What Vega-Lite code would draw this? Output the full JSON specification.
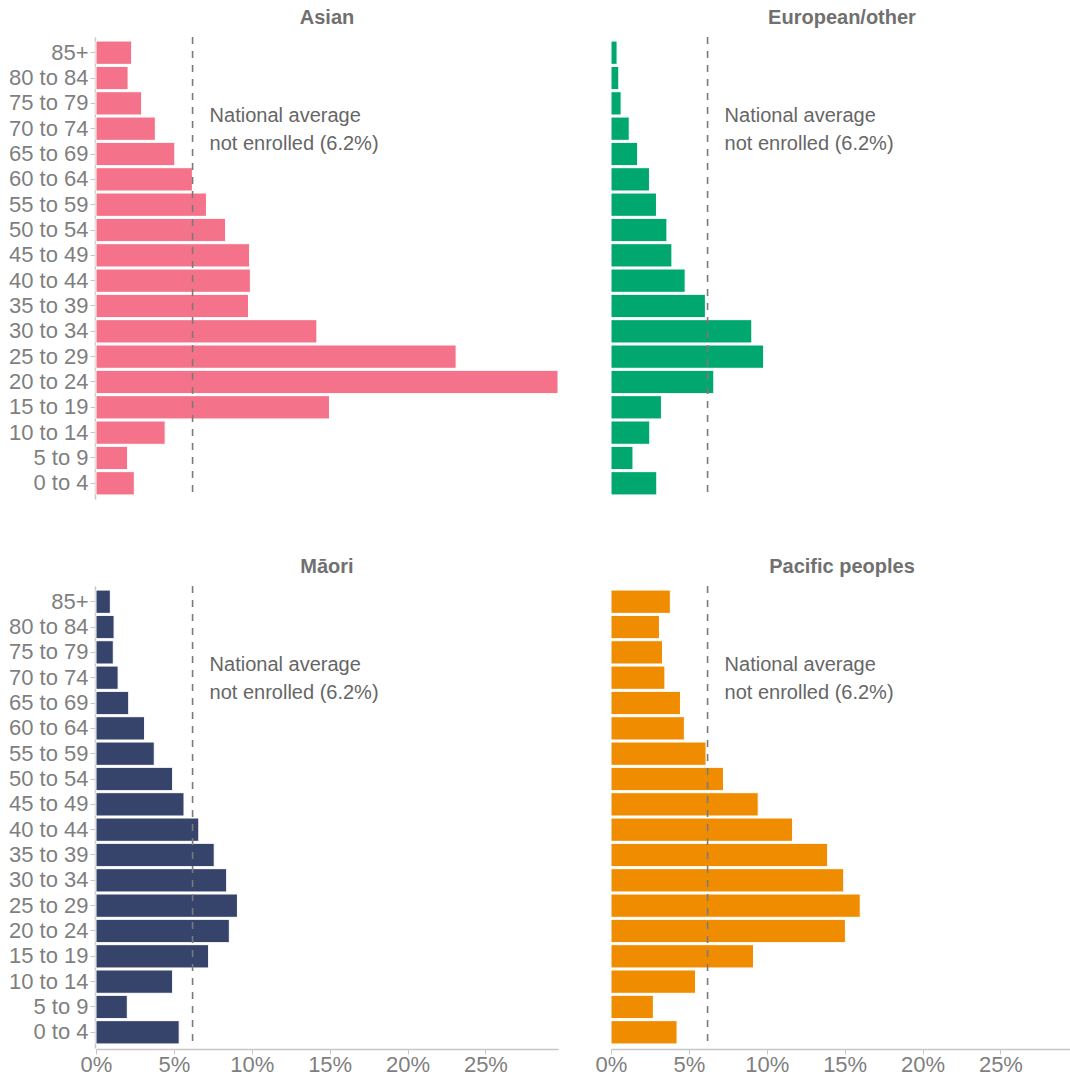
{
  "$schema": "https://vega.github.io/schema/vega-lite/v6.json",
  "padding": {"left": 8, "top": 8, "right": 0, "bottom": 0},
  "background": "white",
  "config": {
    "view": {"stroke": null},
    "font": "Liberation Sans",
    "axis": {"labelFont": "Liberation Sans"}
  },
  "data": {"values": [
    {"group": "Asian", "age": "85+", "pct": 2.29, "national": 6.2},
    {"group": "Asian", "age": "80 to 84", "pct": 2.06, "national": 6.2},
    {"group": "Asian", "age": "75 to 79", "pct": 2.93, "national": 6.2},
    {"group": "Asian", "age": "70 to 74", "pct": 3.81, "national": 6.2},
    {"group": "Asian", "age": "65 to 69", "pct": 5.06, "national": 6.2},
    {"group": "Asian", "age": "60 to 64", "pct": 6.19, "national": 6.2},
    {"group": "Asian", "age": "55 to 59", "pct": 7.09, "national": 6.2},
    {"group": "Asian", "age": "50 to 54", "pct": 8.32, "national": 6.2},
    {"group": "Asian", "age": "45 to 49", "pct": 9.86, "national": 6.2},
    {"group": "Asian", "age": "40 to 44", "pct": 9.91, "national": 6.2},
    {"group": "Asian", "age": "35 to 39", "pct": 9.79, "national": 6.2},
    {"group": "Asian", "age": "30 to 34", "pct": 14.18, "national": 6.2},
    {"group": "Asian", "age": "25 to 29", "pct": 23.12, "national": 6.2},
    {"group": "Asian", "age": "20 to 24", "pct": 29.66, "national": 6.2},
    {"group": "Asian", "age": "15 to 19", "pct": 14.99, "national": 6.2},
    {"group": "Asian", "age": "10 to 14", "pct": 4.44, "national": 6.2},
    {"group": "Asian", "age": "5 to 9", "pct": 2.03, "national": 6.2},
    {"group": "Asian", "age": "0 to 4", "pct": 2.46, "national": 6.2},
    {"group": "European/other", "age": "85+", "pct": 0.39, "national": 6.2},
    {"group": "European/other", "age": "80 to 84", "pct": 0.5, "national": 6.2},
    {"group": "European/other", "age": "75 to 79", "pct": 0.65, "national": 6.2},
    {"group": "European/other", "age": "70 to 74", "pct": 1.17, "national": 6.2},
    {"group": "European/other", "age": "65 to 69", "pct": 1.71, "national": 6.2},
    {"group": "European/other", "age": "60 to 64", "pct": 2.47, "national": 6.2},
    {"group": "European/other", "age": "55 to 59", "pct": 2.92, "national": 6.2},
    {"group": "European/other", "age": "50 to 54", "pct": 3.59, "national": 6.2},
    {"group": "European/other", "age": "45 to 49", "pct": 3.91, "national": 6.2},
    {"group": "European/other", "age": "40 to 44", "pct": 4.76, "national": 6.2},
    {"group": "European/other", "age": "35 to 39", "pct": 6.06, "national": 6.2},
    {"group": "European/other", "age": "30 to 34", "pct": 9.04, "national": 6.2},
    {"group": "European/other", "age": "25 to 29", "pct": 9.8, "national": 6.2},
    {"group": "European/other", "age": "20 to 24", "pct": 6.6, "national": 6.2},
    {"group": "European/other", "age": "15 to 19", "pct": 3.24, "national": 6.2},
    {"group": "European/other", "age": "10 to 14", "pct": 2.49, "national": 6.2},
    {"group": "European/other", "age": "5 to 9", "pct": 1.41, "national": 6.2},
    {"group": "European/other", "age": "0 to 4", "pct": 2.94, "national": 6.2},
    {"group": "Māori", "age": "85+", "pct": 0.92, "national": 6.2},
    {"group": "Māori", "age": "80 to 84", "pct": 1.16, "national": 6.2},
    {"group": "Māori", "age": "75 to 79", "pct": 1.11, "national": 6.2},
    {"group": "Māori", "age": "70 to 74", "pct": 1.42, "national": 6.2},
    {"group": "Māori", "age": "65 to 69", "pct": 2.1, "national": 6.2},
    {"group": "Māori", "age": "60 to 64", "pct": 3.12, "national": 6.2},
    {"group": "Māori", "age": "55 to 59", "pct": 3.74, "national": 6.2},
    {"group": "Māori", "age": "50 to 54", "pct": 4.92, "national": 6.2},
    {"group": "Māori", "age": "45 to 49", "pct": 5.65, "national": 6.2},
    {"group": "Māori", "age": "40 to 44", "pct": 6.6, "national": 6.2},
    {"group": "Māori", "age": "35 to 39", "pct": 7.59, "national": 6.2},
    {"group": "Māori", "age": "30 to 34", "pct": 8.39, "national": 6.2},
    {"group": "Māori", "age": "25 to 29", "pct": 9.08, "national": 6.2},
    {"group": "Māori", "age": "20 to 24", "pct": 8.56, "national": 6.2},
    {"group": "Māori", "age": "15 to 19", "pct": 7.23, "national": 6.2},
    {"group": "Māori", "age": "10 to 14", "pct": 4.92, "national": 6.2},
    {"group": "Māori", "age": "5 to 9", "pct": 2.01, "national": 6.2},
    {"group": "Māori", "age": "0 to 4", "pct": 5.34, "national": 6.2},
    {"group": "Pacific peoples", "age": "85+", "pct": 3.81, "national": 6.2},
    {"group": "Pacific peoples", "age": "80 to 84", "pct": 3.11, "national": 6.2},
    {"group": "Pacific peoples", "age": "75 to 79", "pct": 3.31, "national": 6.2},
    {"group": "Pacific peoples", "age": "70 to 74", "pct": 3.46, "national": 6.2},
    {"group": "Pacific peoples", "age": "65 to 69", "pct": 4.46, "national": 6.2},
    {"group": "Pacific peoples", "age": "60 to 64", "pct": 4.71, "national": 6.2},
    {"group": "Pacific peoples", "age": "55 to 59", "pct": 6.1, "national": 6.2},
    {"group": "Pacific peoples", "age": "50 to 54", "pct": 7.22, "national": 6.2},
    {"group": "Pacific peoples", "age": "45 to 49", "pct": 9.45, "national": 6.2},
    {"group": "Pacific peoples", "age": "40 to 44", "pct": 11.66, "national": 6.2},
    {"group": "Pacific peoples", "age": "35 to 39", "pct": 13.91, "national": 6.2},
    {"group": "Pacific peoples", "age": "30 to 34", "pct": 14.94, "national": 6.2},
    {"group": "Pacific peoples", "age": "25 to 29", "pct": 16.0, "national": 6.2},
    {"group": "Pacific peoples", "age": "20 to 24", "pct": 15.05, "national": 6.2},
    {"group": "Pacific peoples", "age": "15 to 19", "pct": 9.15, "national": 6.2},
    {"group": "Pacific peoples", "age": "10 to 14", "pct": 5.43, "national": 6.2},
    {"group": "Pacific peoples", "age": "5 to 9", "pct": 2.72, "national": 6.2},
    {"group": "Pacific peoples", "age": "0 to 4", "pct": 4.24, "national": 6.2}
  ]},
  "columns": 2,
  "spacing": {"row": 57, "column": 51},
  "facet": {
    "field": "group",
    "type": "nominal",
    "sort": ["Asian", "European/other", "Māori", "Pacific peoples"],
    "header": {
      "title": null,
      "labelFont": "Liberation Sans",
      "labelFontSize": 20,
      "labelFontWeight": "bold",
      "labelColor": "#707070",
      "labelPadding": 8
    }
  },
  "spec": {
    "width": 462,
    "height": 462,
    "encoding": {
      "y": {
        "field": "age",
        "type": "nominal",
        "sort": ["85+", "80 to 84", "75 to 79", "70 to 74", "65 to 69", "60 to 64", "55 to 59", "50 to 54", "45 to 49", "40 to 44", "35 to 39", "30 to 34", "25 to 29", "20 to 24", "15 to 19", "10 to 14", "5 to 9", "0 to 4"],
        "scale": {"paddingInner": 0.08, "paddingOuter": 0.16},
        "axis": {
          "title": null,
          "labelFontSize": 22,
          "labelColor": "#7f7f7f",
          "domainColor": "#c6c6c6",
          "domainWidth": 1.5,
          "tickColor": "#c6c6c6",
          "tickSize": 5,
          "labelPadding": 2
        }
      }
    },
    "layer": [
      {
        "mark": {"type": "bar", "stroke": "white", "strokeWidth": 1},
        "encoding": {
          "x": {
            "field": "pct",
            "type": "quantitative",
            "scale": {"domain": [0, 29.66], "nice": false, "zero": true},
            "axis": {
              "title": null,
              "values": [0, 5, 10, 15, 20, 25],
              "labelExpr": "datum.value + '%'",
              "labelFontSize": 22,
              "labelColor": "#7f7f7f",
              "labelFlush": false,
              "domainColor": "#c6c6c6",
              "domainWidth": 1.5,
              "tickColor": "#c6c6c6",
              "tickSize": 5,
              "labelPadding": 0,
              "grid": false
            }
          },
          "color": {
            "field": "group",
            "type": "nominal",
            "scale": {
              "domain": ["Asian", "European/other", "Māori", "Pacific peoples"],
              "range": ["#F4738A", "#00A86F", "#36436B", "#F08C00"]
            },
            "legend": null
          }
        }
      },
      {
        "transform": [{"filter": "datum.age === '85+'"}],
        "mark": {"type": "rule", "color": "#7a7a7a", "strokeWidth": 1.6, "strokeDash": [7, 7]},
        "encoding": {
          "x": {"field": "national", "type": "quantitative"},
          "y": null
        }
      },
      {
        "transform": [{"filter": "datum.age === '70 to 74'"}],
        "mark": {
          "type": "text",
          "text": ["National average", "not enrolled (6.2%)"],
          "align": "left",
          "baseline": "middle",
          "lineHeight": 28,
          "dx": 17,
          "dy": -13,
          "fontSize": 20,
          "color": "#666666",
          "font": "Liberation Sans"
        },
        "encoding": {
          "x": {"field": "national", "type": "quantitative"}
        }
      }
    ]
  }
}
